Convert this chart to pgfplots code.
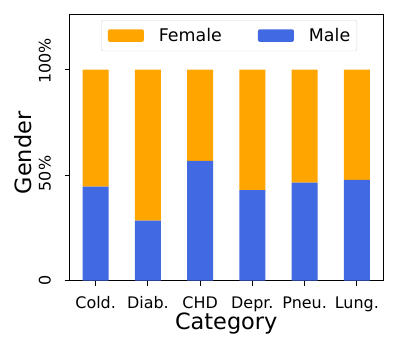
\documentclass[border=0pt]{standalone}
\usepackage{fontspec}
\setmainfont{DejaVu Sans}
\usepackage{pgfplots}
\pgfplotsset{compat=1.18}
\definecolor{mblue}{HTML}{4169E1}
\definecolor{forange}{HTML}{FFA500}
\begin{document}
\begin{tikzpicture}[x=1bp,y=1bp]
\path[use as bounding box] (0,0) rectangle (399,349);
\begin{axis}[
  at={(69.5bp,68.3bp)}, anchor=south west,
  scale only axis, width=313.5bp, height=266bp,
  ybar stacked, bar width=26bp,
  xmin=-0.5, xmax=5.5, ymin=0, ymax=126,
  enlargelimits=false,
  axis line style={line width=0.8bp},
  every tick/.style={black, line width=0.8bp},
  major tick length=4.9bp, tick align=outside,
  xtick pos=left, ytick pos=left,
  xtick={0,1,2,3,4,5},
  xticklabels={Cold.,Diab.,CHD,Depr.,Pneu.,Lung.},
  ytick={0,50,100},
  yticklabels={0,{\hspace*{3.4bp}50\%},{\hspace*{17bp}100\%}},
  xticklabel style={font=\fontsize{16}{19}\selectfont, inner sep=0pt, anchor=north},
  xticklabel shift=11bp,
  yticklabel style={font=\fontsize{16}{19}\selectfont, rotate=90, anchor=south, inner sep=0pt},
  yticklabel shift=13.5bp,
  xlabel={Category}, ylabel={Gender},
  xlabel style={font=\fontsize{22.5}{26}\selectfont, at={(axis description cs:0.5,-0.185)}, anchor=base},
  ylabel style={font=\fontsize{22.5}{26}\selectfont, at={(axis description cs:-0.1212,0.48)}, anchor=base},
  legend columns=2,
  legend style={at={(0.509,0.98)}, anchor=north, draw=black!15, rounded corners=2bp, fill=white,
    font=\fontsize{17.5}{20}\selectfont, inner xsep=6.7bp, inner ysep=8bp,
    nodes={inner sep=0pt},
    /tikz/every odd column/.append style={column sep=15bp},
    /tikz/column 2/.style={column sep=36bp}},
  legend image code/.code={\fill[#1] (0bp,-6.3bp) rectangle (36bp,6.3bp);},
]
\addlegendimage{fill=forange, draw=none}
\addlegendentry{Female}
\addlegendimage{fill=mblue, draw=none}
\addlegendentry{Male}
\addplot[fill=mblue, draw=none, forget plot] coordinates {(0,44.6) (1,28.5) (2,56.8) (3,42.9) (4,46.5) (5,47.8)};
\addplot[fill=forange, draw=none, forget plot] coordinates {(0,55.4) (1,71.5) (2,43.2) (3,57.1) (4,53.5) (5,52.2)};
\end{axis}
\end{tikzpicture}
\end{document}
